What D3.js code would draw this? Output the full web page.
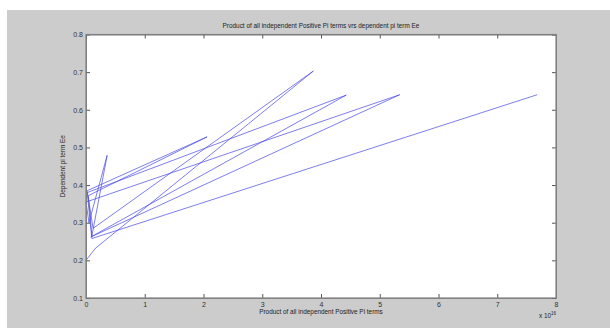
<!DOCTYPE html>
<html>
<head>
<meta charset="utf-8">
<script src="https://cdn.jsdelivr.net/npm/d3@7"></script>
<style>
  body { margin: 0; background: #fff; }
  text { font-family: "Liberation Sans", Arial, sans-serif; }
</style>
</head>
<body>
<div id="fig"></div>
<script>
// values, x in units of 1e16, in plotted order
var xVals = [0.00, 0.16, 3.87, 0.12, 0.02, 2.06, 0.04, 0.10, 0.36, 0.05, 0.00, 5.34, 0.08, 4.43, 0.02, 0.10, 7.68];
var yVals = [0.200, 0.232, 0.703, 0.285, 0.385, 0.528, 0.372, 0.265, 0.479, 0.300, 0.355, 0.640, 0.262, 0.639, 0.380, 0.258, 0.640];
var xTicks = [0, 1, 2, 3, 4, 5, 6, 7, 8];
var yTicks = [0.1, 0.2, 0.3, 0.4, 0.5, 0.6, 0.7, 0.8];

var titleTxt = "Product of all independent Positive Pi terms vrs dependent pi term Ee";
var xLabel = "Product of all independent Positive Pi terms";
var yLabel = "Dependent pi term Ee";

var W = 610, H = 328;
var margin = {left: 86, top: 34.5, right: 54, bottom: 30};
var width = W - margin.left - margin.right;
var height = H - margin.top - margin.bottom;

var svg = d3.select("#fig")
  .append("svg")
    .attr("width", W)
    .attr("height", H);

// grey figure background
svg.append("rect")
  .attr("x", 7).attr("y", 10)
  .attr("width", W - 7).attr("height", H - 10)
  .attr("fill", "#cccccc");

var g = svg.append("g")
  .attr("transform", "translate(" + margin.left + "," + margin.top + ")");

g.append("rect")
  .attr("width", width).attr("height", height)
  .attr("fill", "#fff");

var x = d3.scaleLinear().domain([0, 8]).range([0, width]);
var y = d3.scaleLinear().domain([0.1, 0.8]).range([height, 0]);

// the data line
var pts = xVals.map(function(d, i) { return [d, yVals[i]]; });
g.append("path")
  .datum(pts)
  .attr("fill", "none")
  .attr("stroke", "#4646e6")
  .attr("stroke-width", 0.7)
  .attr("d", d3.line()
    .x(function(d) { return x(d[0]); })
    .y(function(d) { return y(d[1]); }));

// axes, ticks pointing inward
g.append("g")
  .attr("transform", "translate(0," + height + ")")
  .call(d3.axisBottom(x).tickValues(xTicks).tickSizeInner(-4).tickSizeOuter(0).tickPadding(4).tickFormat(d3.format("d")));
g.append("g")
  .call(d3.axisLeft(y).tickValues(yTicks).tickSizeInner(-4).tickSizeOuter(0).tickPadding(3).tickFormat(d3.format(".1f")));
g.append("g")
  .call(d3.axisTop(x).tickValues(xTicks).tickSizeInner(-4).tickSizeOuter(0).tickFormat(""));
g.append("g")
  .attr("transform", "translate(" + width + ",0)")
  .call(d3.axisRight(y).tickValues(yTicks).tickSizeInner(-4).tickSizeOuter(0).tickFormat(""));

g.selectAll(".domain").attr("stroke", "#808080");
g.selectAll(".tick line").attr("stroke", "#555");
g.selectAll(".tick text").attr("fill", "#333").style("font-size", "7px");

// box
g.append("rect")
  .attr("width", width).attr("height", height)
  .attr("fill", "none")
  .attr("stroke", "#808080")
  .attr("stroke-width", 1.2);

// labels
svg.append("text")
  .attr("x", margin.left + width / 2).attr("y", 28)
  .attr("text-anchor", "middle")
  .attr("fill", "#222")
  .style("font-size", "6.4px")
  .text(titleTxt);

svg.append("text")
  .attr("x", margin.left + width / 2).attr("y", 314)
  .attr("text-anchor", "middle")
  .attr("fill", "#222")
  .style("font-size", "6.4px")
  .text(xLabel);

svg.append("text")
  .attr("transform", "translate(65," + (margin.top + height / 2) + ") rotate(-90)")
  .attr("text-anchor", "middle")
  .attr("fill", "#222")
  .style("font-size", "6.4px")
  .text(yLabel);

// exponent note
var ex = svg.append("text")
  .attr("x", 539).attr("y", 318)
  .attr("fill", "#222")
  .style("font-size", "6.4px");
ex.append("tspan").text("x 10");
ex.append("tspan").attr("dy", -3).style("font-size", "4.5px").text("16");
</script>
</body>
</html>
